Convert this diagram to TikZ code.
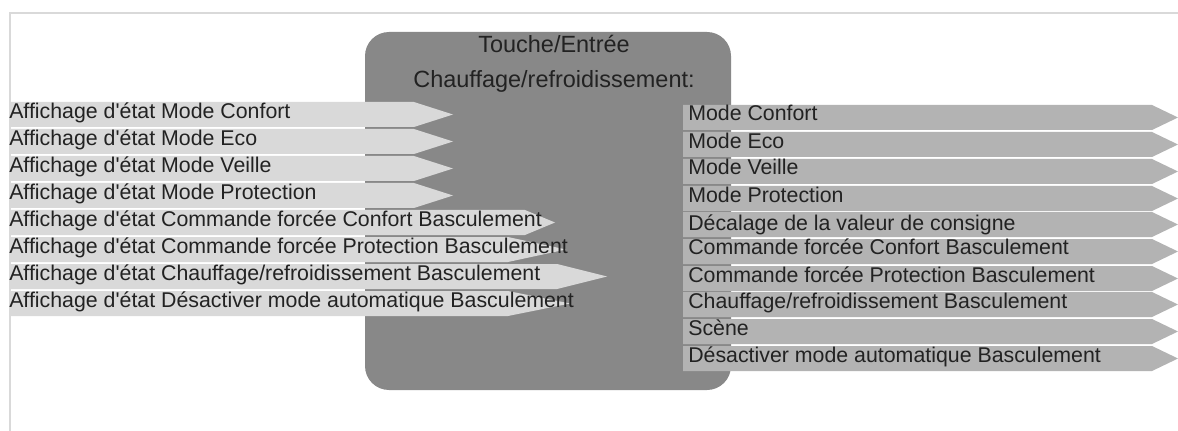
\documentclass[tikz,border=0pt]{standalone}
\usepackage{fontspec}
\setmainfont{Liberation Sans}
\usetikzlibrary{shapes.symbols}

\definecolor{framegray}{HTML}{D9D9D9}
\definecolor{blockgray}{HTML}{888888}
\definecolor{ingray}{HTML}{D9D9D9}
\definecolor{outgray}{HTML}{B3B3B3}
\definecolor{textgray}{HTML}{222222}

\begin{document}
\begin{tikzpicture}[
        x=0.75pt, y=-0.75pt,
        block/.style={rectangle, rounded corners=18pt, fill=blockgray, minimum width=274.5pt, minimum height=268.5pt, inner sep=0pt, outer sep=0pt},
        title/.style={anchor=base, inner sep=0pt, text=textgray, font=\fontsize{17.6pt}{21pt}\selectfont},
        lbl/.style={anchor=base west, inner sep=0pt, text=textgray, font=\fontsize{16pt}{19pt}\selectfont, yshift=-3pt},
        olbl/.style={lbl, xshift=3.75pt},
        inbar/.style={signal, signal to=east, fill=ingray, anchor=west, minimum height=18.75pt, minimum width=333pt, inner sep=0pt, outer sep=0pt, signal pointer angle=35.5},
        outbar/.style={signal, signal to=east, fill=outgray, anchor=west, minimum height=18.75pt, minimum width=371.25pt, inner sep=0pt, outer sep=0pt, signal pointer angle=51.4},
    ]
        \useasboundingbox (0,0) rectangle (1178,431);
        \draw[framegray, line width=1.5pt] (10,431) -- (10,13.5) -- (1178,13.5);

        \node[block, anchor=north west] (blk) at (365,32) {};
        \node[title] (ttl)  at (554,53) {Touche/Entrée};
        \node[title] (ttlb) at (554,88) {Chauffage/refroidissement:};

        % inputs
        \node[inbar, label={[lbl]west:Affichage d\textquotesingle état Mode Confort}]    (in1) at (9,114.5) {};
        \node[inbar, label={[lbl]west:Affichage d\textquotesingle état Mode Eco}]        (in2) at (9,141.5) {};
        \node[inbar, label={[lbl]west:Affichage d\textquotesingle état Mode Veille}]     (in3) at (9,168.5) {};
        \node[inbar, label={[lbl]west:Affichage d\textquotesingle état Mode Protection}] (in4) at (9,195.5) {};
        \node[inbar, minimum width=409.5pt, signal pointer angle=45.2,
              label={[lbl]west:Affichage d\textquotesingle état Commande forcée Confort Basculement}]    (in5) at (9,222.5) {};
        \node[inbar, minimum width=417.75pt, signal pointer angle=24.3,
              label={[lbl]west:Affichage d\textquotesingle état Commande forcée Protection Basculement}] (in6) at (9,249.5) {};
        \node[inbar, minimum width=448.5pt, signal pointer angle=28.1,
              label={[lbl]west:Affichage d\textquotesingle état Chauffage/refroidissement Basculement}]  (in7) at (9,276.5) {};
        \node[inbar, minimum width=420.75pt, signal pointer angle=22.8,
              label={[lbl]west:Affichage d\textquotesingle état Désactiver mode automatique Basculement}] (in8) at (9,303.5) {};

        % outputs
        \node[outbar, label={[olbl, yshift=1pt]west:Mode Confort}]    (out1)  at (683,117.5) {};
        \node[outbar, label={[olbl]west:Mode Eco}]                    (out2)  at (683,144.5) {};
        \node[outbar, label={[olbl, yshift=0.5pt]west:Mode Veille}]   (out3)  at (683,171.5) {};
        \node[outbar, label={[olbl]west:Mode Protection}]             (out4)  at (683,198.5) {};
        \node[outbar, label={[olbl, yshift=-1.5pt]west:Décalage de la valeur de consigne}] (out5) at (683,224.5) {};
        \node[outbar, label={[olbl, yshift=1pt]west:Commande forcée Confort Basculement}]  (out6) at (683,251.5) {};
        \node[outbar, label={[olbl]west:Commande forcée Protection Basculement}]           (out7) at (683,278.5) {};
        \node[outbar, label={[olbl]west:Chauffage/refroidissement Basculement}]            (out8) at (683,304.5) {};
        \node[outbar, label={[olbl]west:Scène}]                                            (out9) at (683,331.5) {};
        \node[outbar, label={[olbl]west:Désactiver mode automatique Basculement}]          (out10) at (683,358.5) {};
\end{tikzpicture}
\end{document}
